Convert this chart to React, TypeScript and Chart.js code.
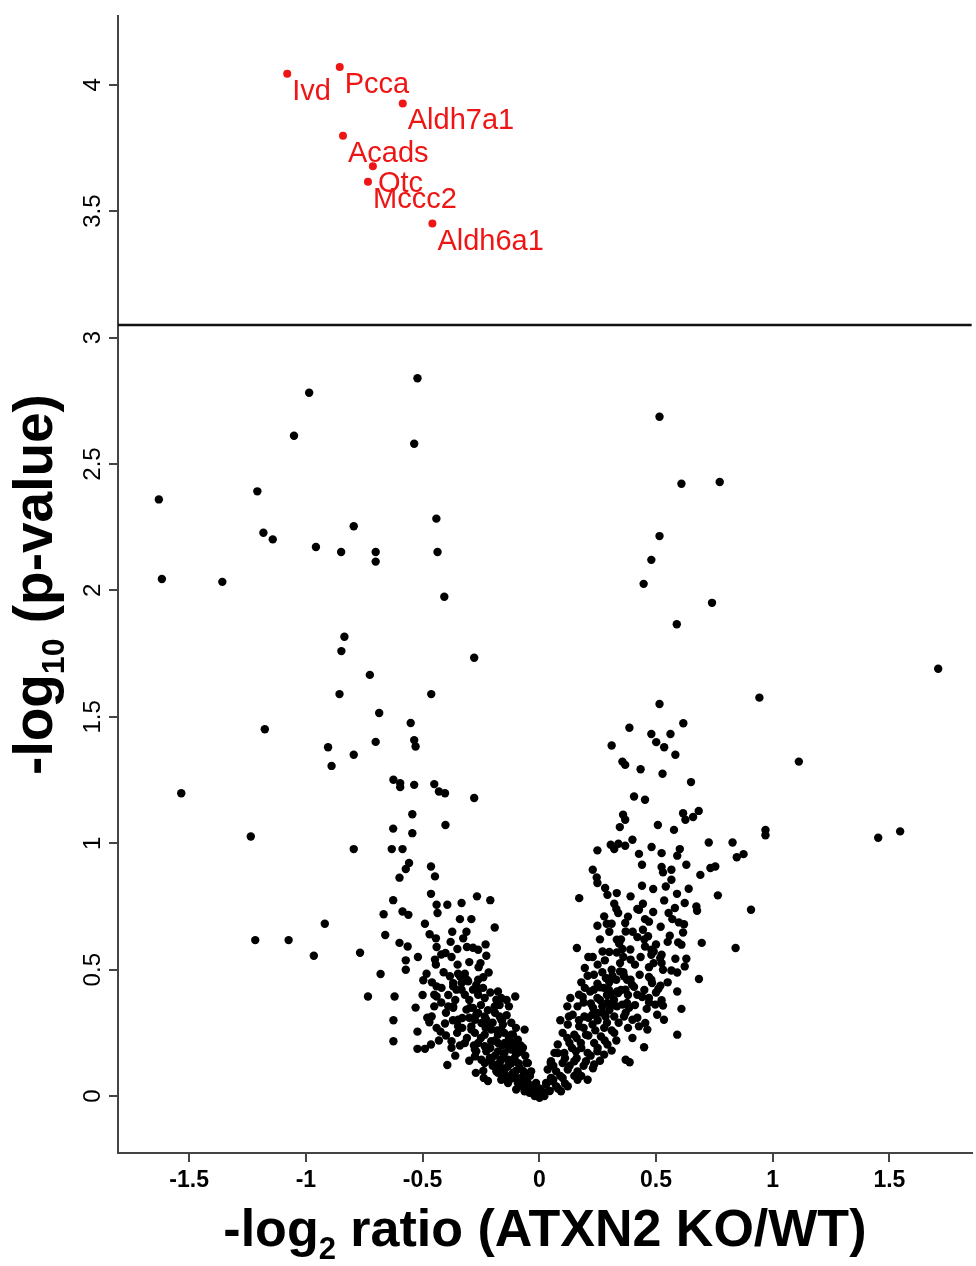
import React, { useEffect, useRef } from 'react';
import { Chart, registerables } from 'chart.js';

Chart.register(...registerables);

const FONT = '"Liberation Sans", Arial, Helvetica, sans-serif';

const xTicks = [-1.5, -1, -0.5, 0, 0.5, 1, 1.5];
const xTickLabels = ['-1.5', '-1', '-0.5', '0', '0.5', '1', '1.5'];
const yTicks = [0, 0.5, 1, 1.5, 2, 2.5, 3, 3.5, 4];
const yTickLabels = ['0', '0.5', '1', '1.5', '2', '2.5', '3', '3.5', '4'];
const xRange = [-1.805, 1.853];
const yRange = [-0.225, 4.272];
const threshold = 3.05;

const hitNames = ['Ivd', 'Pcca', 'Aldh7a1', 'Acads', 'Otc', 'Mccc2', 'Aldh6a1'];
const hitLog2Ratio = [-1.08, -0.855, -0.585, -0.841, -0.713, -0.734, -0.458];
const hitNegLog10P = [4.044, 4.07, 3.926, 3.798, 3.678, 3.616, 3.451];

const proteinLog2Ratio = [
  -0.522, -0.986, -1.051, -0.536, -1.63, -1.208, -0.441, -1.182, -1.142, -0.795, -0.957, -0.849, -0.701, -0.701, -0.436, -1.617, -1.358, -0.407, -0.835, -0.848, -0.279, -0.726, -0.856, -0.463, -0.686, -0.551, -1.176, -0.701, -0.536, -0.53, -0.905, -0.89, -0.795,
  0.515, 0.609, 0.773, 0.515, 0.48, 0.447, 0.74, 0.589, 1.709, 0.943, 0.515, 0.386, 0.617, 0.48, 0.562, 0.31, 0.501, 0.535,
  -1.534, -1.236, -0.795, -0.625, -0.596, -0.596, -0.536, -0.45, -0.43, -0.404, -0.279, -0.544, -0.402, -0.626, -0.544, -0.632, -0.586, -0.558, -0.572, -0.599, -0.464, -0.447, -0.464, -0.626, -0.44, -0.394, -0.333, -0.267, -0.21, -0.436, -0.586, -0.561, -0.667, -0.49, -0.291, -0.191, -0.919, -0.66, -0.373, -0.312, -0.326, -1.217, -1.074, -0.599, -0.564, -0.443, -0.44, -0.351, -0.284, -0.262, -0.966, -0.768, -0.402, -0.376, -0.227, -0.572, -0.447, -0.252, -0.572, -0.443, -0.68, -0.483, -0.497, -0.217, -0.383, -0.348, -0.319, -0.44, -0.369, -0.333, -0.262, -0.419, -0.734, -0.62, -0.44, -0.355, -0.319, -0.262, -0.234, -0.177, -0.163, -0.103, -0.45, -0.39, -0.369, -0.312, -0.284, -0.191, -0.13, -0.461, -0.33, -0.27, -0.234, -0.17, -0.471, -0.404, -0.348, -0.291, -0.248, -0.212, -0.156, -0.063, -0.625, -0.522, -0.423, -0.352, -0.276, -0.234, -0.177, -0.12, -0.092, -0.625, -0.376, -0.319, -0.262, -0.206, -0.148, -0.522, -0.49, -0.464, -0.376, -0.276, -0.227, -0.177, -0.12, -0.078, -0.276, -0.212, -0.156, -0.106, -0.049, -0.394, -0.234, -0.177, -0.134, -0.084, -0.272, -0.238, -0.184, -0.148, -0.106, -0.063, -0.035, -0.134, -0.092, -0.049, -0.099, -0.063, -0.035, -0.006, 0.022, -0.02, 0.029,
  1.112, 0.583, 0.356, 0.368, 0.434, 0.528, 0.65, 0.406, 0.453, 0.359, 0.368, 0.345, 0.508, 0.577, 0.616, 0.626, 0.659, 0.683, 0.969, 0.969, 1.452, 1.546, 0.249, 0.306, 0.321, 0.368, 0.399, 0.481, 0.524, 0.427, 0.602, 0.591, 0.726, 0.828, 0.875, 0.846, 0.229, 0.44, 0.524, 0.566, 0.63, 0.733, 0.754, 0.246, 0.249, 0.69, 0.53, 0.566, 0.282, 0.44, 0.488, 0.542, 0.171, 0.292, 0.332, 0.391, 0.765, 0.321, 0.338, 0.444, 0.427, 0.488, 0.535, 0.581, 0.623, 0.673, 0.676, 0.907, 0.278, 0.249, 0.289, 0.31, 0.368, 0.453, 0.554, 0.598, 0.37, 0.444, 0.616, 0.42, 0.466, 0.559, 0.595, 0.696, 0.161, 0.332, 0.342, 0.356, 0.453, 0.48, 0.609, 0.841, 0.229, 0.271, 0.281, 0.332, 0.391, 0.434, 0.48, 0.524, 0.583, 0.63, 0.195, 0.346, 0.346, 0.524, 0.566, 0.591, 0.623, 0.207, 0.285, 0.313, 0.363, 0.391, 0.47, 0.48, 0.684, 0.195, 0.249, 0.218, 0.406, 0.519, 0.51, 0.133, 0.186, 0.249, 0.306, 0.338, 0.42, 0.441, 0.47, 0.591, 0.164, 0.221, 0.306, 0.356, 0.385, 0.46, 0.524, 0.53, 0.609, 0.143, 0.193, 0.249, 0.321, 0.363, 0.399, 0.505, 0.534, 0.09, 0.122, 0.171, 0.228, 0.278, 0.427, 0.463, 0.591, 0.1, 0.15, 0.2, 0.264, 0.321, 0.399, 0.079, 0.129, 0.178, 0.235, 0.292, 0.449, 0.065, 0.107, 0.157, 0.207, 0.249, 0.278, 0.37, 0.387, 0.05, 0.1, 0.15, 0.2, 0.235, 0.036, 0.072, 0.122, 0.164, 0.05, 0.1, 0.164, 0.207, 0.029, 0.072, 0.122, 0.093, 0.008, -0.02, 0.001, 0.022, -0.042, -0.134, -0.163, -0.148, -0.113, -0.078, -0.092, -0.134, -0.17, -0.142, -0.163, -0.163, -0.113, -0.07, -0.014, -0.049,
  0.339,
  0.49, 0.49, 0.518, 0.234, 0.376, 0.397, 0.483, 0.17, 0.234, 0.276, 0.298, 0.333, 0.369, 0.497, 0.12, 0.27, 0.291, 0.333, 0.376, 0.127, 0.227, 0.284, 0.454, 0.049,
  -0.34, -0.305, -0.369, -0.333, -0.284, -0.241, -0.45, -0.262, -0.184, -0.369, -0.298, -0.262, -0.348, -0.276, -0.227, -0.291, -0.206, -0.234, -0.177, -0.092, -0.27, -0.248, -0.206, -0.163, -0.113, -0.056, -0.177, -0.134, -0.092,
  -0.03, 0.045, 0.0, -0.06, 0.06,
  -0.3, -0.25, -0.22, -0.19, -0.16, -0.14, -0.12, -0.1, -0.2, -0.23, -0.18, -0.15, -0.13, -0.11, -0.08, -0.06, -0.1, -0.13, -0.16, -0.19, -0.21, -0.19, -0.15, -0.12, -0.09, -0.07, -0.04, -0.1, -0.12, -0.08, -0.05, -0.02, -0.16, -0.2, -0.24, -0.22, -0.31, -0.34, -0.3, -0.33, -0.37, -0.4, -0.42, -0.39, -0.36, -0.27, -0.24, -0.31, -0.35, -0.3, -0.41, -0.46, -0.42, -0.38, -0.47, -0.52, -0.5, -0.53, -0.48, -0.44, -0.4, -0.43, -0.36, -0.3, -0.28, -0.25, -0.17, -0.14, -0.21, -0.26, -0.23, -0.31, -0.34,
  0.06, 0.08, 0.11, 0.09, 0.13, 0.16, 0.14, 0.18, 0.12, 0.16, 0.19, 0.21, 0.24, 0.17, 0.21, 0.25, 0.27, 0.23, 0.19, 0.26, 0.3, 0.32, 0.29, 0.26, 0.3, 0.33, 0.35, 0.38, 0.36, 0.31, 0.27, 0.25, 0.3, 0.36, 0.41, 0.39, 0.35, 0.4, 0.45, 0.43, 0.45, 0.41, 0.37, 0.34, 0.31, 0.28, 0.25, 0.22, 0.19, 0.15, 0.11, 0.08, 0.05, 0.18, 0.23, 0.26, 0.31, 0.33, 0.29, 0.38, 0.42, 0.47, 0.5, 0.55, 0.53, 0.47, 0.5, 0.55, 0.52, 0.57, 0.62, 0.59, 0.64, 0.47, 0.42, 0.38, 0.33, 0.3, 0.26, 0.21, 0.18,
];

const proteinNegLog10P = [
  2.839, 2.782, 2.612, 2.58, 2.36, 2.392, 2.284, 2.228, 2.202, 2.254, 2.172, 2.152, 2.152, 2.114, 2.152, 2.045, 2.034, 1.975, 1.817, 1.76, 1.734, 1.666, 1.59, 1.59, 1.515, 1.476, 1.451, 1.401, 1.408, 1.383, 1.38, 1.306, 1.35,
  2.687, 2.422, 2.429, 2.215, 2.121, 2.026, 1.951, 1.866, 1.69, 1.576, 1.551, 1.457, 1.475, 1.432, 1.432, 1.387, 1.4, 1.38,
  1.198, 1.027, 0.977, 1.251, 1.238, 1.222, 1.231, 1.234, 1.205, 1.198, 1.179, 1.115, 1.072, 1.058, 1.04, 0.977, 0.977, 0.922, 0.898, 0.864, 0.908, 0.869, 0.8, 0.775, 0.757, 0.757, 0.764, 0.79, 0.775, 0.724, 0.73, 0.717, 0.719, 0.682, 0.7, 0.667, 0.682, 0.637, 0.65, 0.65, 0.624, 0.617, 0.617, 0.606, 0.592, 0.624, 0.59, 0.582, 0.587, 0.579, 0.555, 0.567, 0.566, 0.55, 0.555, 0.537, 0.54, 0.526, 0.5, 0.52, 0.483, 0.484, 0.458, 0.489, 0.474, 0.484, 0.484, 0.434, 0.447, 0.447, 0.46, 0.428, 0.394, 0.394, 0.394, 0.421, 0.401, 0.421, 0.388, 0.414, 0.388, 0.394, 0.355, 0.355, 0.355, 0.342, 0.349, 0.355, 0.355, 0.315, 0.309, 0.322, 0.315, 0.315, 0.292, 0.287, 0.276, 0.276, 0.289, 0.276, 0.283, 0.263, 0.3, 0.255, 0.255, 0.25, 0.25, 0.243, 0.243, 0.243, 0.223, 0.217, 0.217, 0.21, 0.21, 0.217, 0.21, 0.187, 0.187, 0.204, 0.191, 0.184, 0.177, 0.177, 0.184, 0.177, 0.157, 0.151, 0.151, 0.151, 0.131, 0.123, 0.131, 0.125, 0.118, 0.111, 0.092, 0.072, 0.098, 0.085, 0.085, 0.092, 0.098, 0.058, 0.052, 0.052, 0.026, 0.019, 0.013, 0.0, 0.013, 0.032, 0.052,
  1.323, 1.35, 1.323, 1.31, 1.293, 1.275, 1.242, 1.185, 1.172, 1.113, 1.093, 1.064, 1.072, 1.053, 1.119, 1.093, 1.104, 1.128, 1.053, 1.032, 1.022, 1.047, 0.972, 0.994, 0.977, 0.99, 1.014, 0.985, 0.961, 0.958, 0.977, 0.951, 1.003, 1.003, 0.957, 0.945, 0.895, 0.915, 0.906, 0.895, 0.915, 0.902, 0.908, 0.865, 0.843, 0.875, 0.885, 0.856, 0.823, 0.832, 0.819, 0.829, 0.783, 0.796, 0.803, 0.79, 0.794, 0.761, 0.724, 0.761, 0.737, 0.728, 0.774, 0.744, 0.764, 0.75, 0.733, 0.737, 0.711, 0.674, 0.682, 0.682, 0.685, 0.7, 0.724, 0.687, 0.651, 0.658, 0.647, 0.629, 0.632, 0.634, 0.608, 0.606, 0.586, 0.619, 0.603, 0.582, 0.592, 0.579, 0.599, 0.586, 0.55, 0.572, 0.537, 0.568, 0.54, 0.55, 0.559, 0.559, 0.543, 0.543, 0.507, 0.526, 0.493, 0.526, 0.497, 0.489, 0.513, 0.476, 0.467, 0.476, 0.474, 0.46, 0.471, 0.46, 0.463, 0.428, 0.445, 0.414, 0.432, 0.437, 0.424, 0.388, 0.392, 0.388, 0.401, 0.408, 0.401, 0.392, 0.388, 0.414, 0.355, 0.366, 0.355, 0.362, 0.349, 0.345, 0.379, 0.358, 0.345, 0.322, 0.315, 0.329, 0.315, 0.315, 0.302, 0.322, 0.302, 0.3, 0.283, 0.276, 0.283, 0.27, 0.276, 0.263, 0.243, 0.25, 0.243, 0.243, 0.236, 0.25, 0.23, 0.204, 0.21, 0.21, 0.21, 0.204, 0.193, 0.171, 0.171, 0.177, 0.171, 0.177, 0.164, 0.144, 0.134, 0.138, 0.131, 0.138, 0.138, 0.125, 0.105, 0.098, 0.105, 0.098, 0.072, 0.072, 0.065, 0.065, 0.045, 0.039, 0.039, 0.019, 0.019, 0.0, -0.007, 0.0, 0.013, 0.052, 0.065, 0.105, 0.092, 0.072, 0.171, 0.144, 0.131, 0.21, 0.263, 0.302, 0.243, 0.191, 0.052, 0.039,
  0.998,
  0.572, 0.526, 0.546, 0.48, 0.46, 0.441, 0.447, 0.401, 0.421, 0.428, 0.421, 0.414, 0.421, 0.362, 0.355, 0.355, 0.368, 0.355, 0.368, 0.315, 0.322, 0.315, 0.289, 0.131,
  0.474, 0.454, 0.434, 0.421, 0.421, 0.428, 0.401, 0.401, 0.381, 0.349, 0.349, 0.329, 0.302, 0.302, 0.302, 0.263, 0.263, 0.197, 0.21, 0.197, 0.177, 0.144, 0.138, 0.144, 0.144, 0.131, 0.092, 0.078, 0.065,
  0.03, 0.02, 0.03, 0.06, 0.065,
  0.38, 0.36, 0.34, 0.33, 0.3, 0.32, 0.29, 0.27, 0.29, 0.27, 0.26, 0.25, 0.23, 0.21, 0.2, 0.16, 0.17, 0.19, 0.2, 0.22, 0.19, 0.16, 0.17, 0.13, 0.13, 0.1, 0.08, 0.1, 0.07, 0.04, 0.03, 0.02, 0.11, 0.12, 0.1, 0.06, 0.23, 0.2, 0.31, 0.27, 0.3, 0.33, 0.37, 0.4, 0.38, 0.44, 0.47, 0.46, 0.52, 0.53, 0.49, 0.45, 0.56, 0.61, 0.64, 0.55, 0.4, 0.35, 0.31, 0.27, 0.24, 0.22, 0.16, 0.14, 0.2, 0.23, 0.36, 0.38, 0.41, 0.51, 0.6, 0.59, 0.7,
  0.12, 0.17, 0.15, 0.08, 0.12, 0.15, 0.19, 0.19, 0.23, 0.23, 0.27, 0.24, 0.26, 0.3, 0.31, 0.3, 0.33, 0.35, 0.37, 0.38, 0.34, 0.38, 0.4, 0.43, 0.45, 0.46, 0.42, 0.4, 0.49, 0.5, 0.49, 0.52, 0.57, 0.55, 0.52, 0.58, 0.62, 0.65, 0.62, 0.48, 0.42, 0.36, 0.33, 0.29, 0.26, 0.22, 0.19, 0.16, 0.12, 0.08, 0.05, 0.03, 0.06, 0.08, 0.11, 0.14, 0.18, 0.22, 0.29, 0.27, 0.31, 0.37, 0.41, 0.45, 0.5, 0.51, 0.6, 0.61, 0.67, 0.7, 0.68, 0.8, 0.82, 0.69, 0.74, 0.71, 0.74, 0.65, 0.62, 0.55, 0.45,
];

const BLACK = '#000000';
const RED = '#ee1515';

const textPlugin = {
  id: 'volcanoText',
  afterDraw(chart: any) {
    const ctx: CanvasRenderingContext2D = chart.ctx;
    const xs = chart.scales.x;
    const ys = chart.scales.y;
    const area = chart.chartArea;
    ctx.save();
    ctx.fillStyle = '#000';

    // y tick labels, rotated
    ctx.font = `24px ${FONT}`;
    ctx.textAlign = 'center';
    ctx.textBaseline = 'alphabetic';
    yTicks.forEach((v, i) => {
      const py = ys.getPixelForValue(v);
      ctx.save();
      ctx.translate(area.left - 18, py);
      ctx.rotate(-Math.PI / 2);
      ctx.fillText(yTickLabels[i], 0, 0);
      ctx.restore();
    });

    // x tick labels
    ctx.font = `bold 23px ${FONT}`;
    xTicks.forEach((v, i) => {
      ctx.fillText(xTickLabels[i], xs.getPixelForValue(v), area.bottom + 34);
    });

    // x title with subscript
    const big = `bold 52px ${FONT}`;
    const small = `bold 31px ${FONT}`;
    const xa = '-log';
    const xsub = '2';
    const xb = ' ratio (ATXN2 KO/WT)';
    ctx.font = big;
    const w1 = ctx.measureText(xa).width;
    const w3 = ctx.measureText(xb).width;
    ctx.font = small;
    const w2 = ctx.measureText(xsub).width;
    const total = w1 + w2 + w3;
    const cx = (area.left + area.right) / 2;
    const sx = cx - total / 2;
    const by = 1246;
    ctx.textAlign = 'left';
    ctx.font = big;
    ctx.fillText(xa, sx, by);
    ctx.font = small;
    ctx.fillText(xsub, sx + w1, by + 13);
    ctx.font = big;
    ctx.fillText(xb, sx + w1 + w2, by);

    // y title with subscript (rotated)
    const ybig = `bold 55px ${FONT}`;
    const ysmall = `bold 32px ${FONT}`;
    const ya = '-log';
    const ysub = '10';
    const yb = ' (p-value)';
    ctx.font = ybig;
    const v1 = ctx.measureText(ya).width;
    const v3 = ctx.measureText(yb).width;
    ctx.font = ysmall;
    const v2 = ctx.measureText(ysub).width;
    const vt = v1 + v2 + v3;
    const cy = (area.top + area.bottom) / 2;
    ctx.save();
    ctx.translate(52, cy);
    ctx.rotate(-Math.PI / 2);
    const s0 = -vt / 2;
    ctx.font = ybig;
    ctx.fillText(ya, s0, 0);
    ctx.font = ysmall;
    ctx.fillText(ysub, s0 + v1, 12);
    ctx.font = ybig;
    ctx.fillText(yb, s0 + v1 + v2, 0);
    ctx.restore();

    // hit labels
    ctx.fillStyle = RED;
    ctx.font = `29px ${FONT}`;
    ctx.textAlign = 'left';
    hitNames.forEach((name, i) => {
      const px = xs.getPixelForValue(hitLog2Ratio[i]);
      const py = ys.getPixelForValue(hitNegLog10P[i]);
      ctx.fillText(name, px + 5, py + 26);
    });
    ctx.restore();
  },
};

export default function App() {
  const ref = useRef<HTMLCanvasElement>(null);
  useEffect(() => {
    const canvas = ref.current;
    if (!canvas) return;
    const proteins = proteinLog2Ratio.map((x, i) => ({ x, y: proteinNegLog10P[i] }));
    const hits = hitLog2Ratio.map((x, i) => ({ x, y: hitNegLog10P[i] }));
    const axisCommon = {
      type: 'linear' as const,
      ticks: { display: false },
      grid: {
        display: true,
        drawOnChartArea: false,
        drawTicks: true,
        tickLength: 9,
        color: '#444',
        lineWidth: 2,
      },
      border: { display: true, color: '#444', width: 2 },
    };
    const chart = new Chart(canvas, {
      type: 'scatter',
      data: {
        datasets: [
          {
            data: proteins,
            pointRadius: 4.2,
            pointBorderWidth: 0,
            pointBackgroundColor: BLACK,
            backgroundColor: BLACK,
          },
          {
            data: hits,
            pointRadius: 4,
            pointBorderWidth: 0,
            pointBackgroundColor: RED,
            backgroundColor: RED,
          },
          {
            data: [
              { x: xRange[0], y: threshold },
              { x: xRange[1], y: threshold },
            ],
            showLine: true,
            borderColor: '#111',
            borderWidth: 2.6,
            pointRadius: 0,
          },
        ],
      },
      options: {
        animation: false,
        responsive: false,
        maintainAspectRatio: false,
        layout: { padding: { left: 109, top: 16, right: -4, bottom: 104 } },
        plugins: { legend: { display: false }, tooltip: { enabled: false } },
        scales: {
          x: {
            ...axisCommon,
            min: xRange[0],
            max: xRange[1],
            afterBuildTicks: (s: any) => {
              s.ticks = xTicks.map((v) => ({ value: v }));
            },
          },
          y: {
            ...axisCommon,
            min: yRange[0],
            max: yRange[1],
            afterBuildTicks: (s: any) => {
              s.ticks = yTicks.map((v) => ({ value: v }));
            },
          },
        },
      },
      plugins: [textPlugin],
    } as any);
    return () => chart.destroy();
  }, []);
  return (
    <div style={{ position: 'absolute', left: 0, top: 0, width: 976, height: 1266, background: '#fff' }}>
      <canvas ref={ref} width={976} height={1266} style={{ display: 'block', width: 976, height: 1266 }} />
    </div>
  );
}
